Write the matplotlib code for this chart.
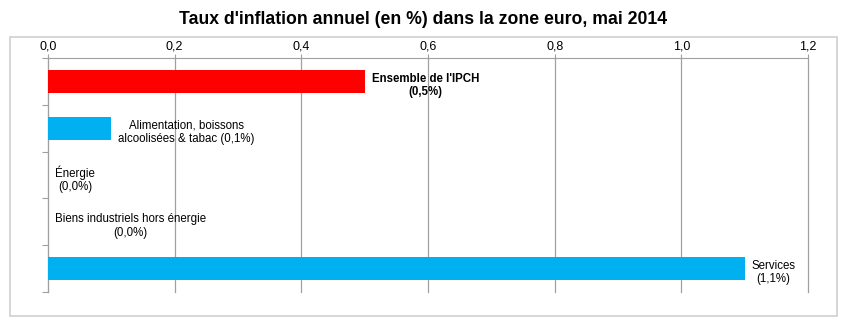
import numpy as np
from matplotlib import pyplot as plt
from matplotlib.patches import Rectangle

plt.rcParams['font.family'] = ['Liberation Sans', 'DejaVu Sans']

# Data
categories = [
    "Ensemble de l'IPCH",
    "Alimentation, boissons\nalcoolisées & tabac",
    "Énergie",
    "Biens industriels hors énergie",
    "Services",
]
values = [0.5, 0.1, 0.0, 0.0, 1.1]
value_labels = ["(0,5%)", "(0,1%)", "(0,0%)", "(0,0%)", "(1,1%)"]
colors = ["#FF0000", "#00B0F0", "#00B0F0", "#00B0F0", "#00B0F0"]
xticks = [0.0, 0.2, 0.4, 0.6, 0.8, 1.0, 1.2]
xtick_labels = ["0,0", "0,2", "0,4", "0,6", "0,8", "1,0", "1,2"]

W, H = 847, 326
fig = plt.figure(figsize=(W / 100, H / 100), dpi=100)
ax = fig.add_axes([48 / W, 1 - 292 / H, (808 - 48) / W, (292 - 58) / H])

# outer light grey frame
fig.patches.append(Rectangle((10 / W, 1 - 316 / H), 827 / W, 279 / H,
                             transform=fig.transFigure, fill=False,
                             edgecolor="#D0D0D0", linewidth=1.2, zorder=0))

y = np.arange(len(categories))
ax.barh(y, values, height=0.49, color=colors, zorder=3)

ax.set_xlim(0, 1.2)
ax.set_ylim(4.5, -0.5)

# labels next to bars
for yi, v, cat, vl in zip(y, values, categories, value_labels):
    if "\n" in cat:
        txt = cat + " " + vl
    else:
        txt = cat + "\n" + vl
    weight = "bold" if yi == 0 else "normal"
    ax.annotate(txt, (v, yi), xytext=(5, -3), textcoords="offset points",
                ha="left", va="center", multialignment="center",
                fontsize=8.3, fontweight=weight, color="black", zorder=5,
                linespacing=1.15)

# axes styling
ax.xaxis.tick_top()
ax.set_xticks(xticks)
ax.set_xticklabels(xtick_labels, fontsize=9)
ax.tick_params(axis="x", length=3, color="#A0A0A0", pad=1)
ax.grid(axis="x", color="#A0A0A0", linewidth=0.9, zorder=1)
for gl in ax.get_xgridlines():
    gl.set_clip_on(False)

ax.set_yticks(np.arange(-0.5, 5.0, 1.0))
ax.set_yticklabels([])
ax.tick_params(axis="y", length=4, color="#A0A0A0")

for side in ["right", "bottom"]:
    ax.spines[side].set_visible(False)
ax.spines["top"].set_color("#A0A0A0")
ax.spines["left"].set_color("#A0A0A0")

fig.text(0.5, 1 - 19 / H, "Taux d'inflation annuel (en %) dans la zone euro, mai 2014",
         ha="center", va="center", fontsize=12.7, fontweight="bold")

fig.savefig("out.png", dpi=100)
